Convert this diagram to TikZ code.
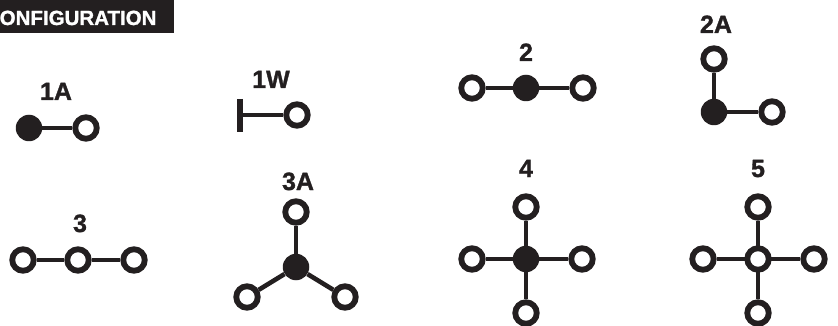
\documentclass[tikz,border=0pt]{standalone}
\usepackage{fontspec}
\setmainfont{Liberation Sans}
\newfontfamily\heavyfont{Liberation Sans}[BoldFeatures={FakeBold=1.3}]
\definecolor{ink}{RGB}{35,31,32}
\tikzset{
  opennode/.style={circle,draw=ink,line width=5.8pt,fill=white,minimum size=21.5pt,inner sep=0pt},
  solidnode/.style={circle,fill=ink,draw=none,minimum size=26.5pt,inner sep=0pt},
  conn/.style={draw=ink,line width=4.6pt},
  lbl/.style={font=\heavyfont\fontsize{25}{25}\selectfont\bfseries,text=ink,anchor=base,inner sep=0pt},
}
\begin{document}
\begin{tikzpicture}[x=1pt,y=-1pt]
\useasboundingbox (0,0) rectangle (838,326);
% header
\fill[ink] (0,0) rectangle (174,33);
\node[font=\heavyfont\fontsize{20.5}{20.5}\selectfont\bfseries,text=white,anchor=base west,inner sep=0pt] (hdr) at (-0.5,25) {ONFIGURATION};

% 1A
\node[lbl] (l1A) at (56,100) {1A};
\node[solidnode] (a1) at (29,128) {};
\node[opennode] (a2) at (86,128) {};
\draw[conn] (a1) -- (a2);

% 1W
\node[lbl] (l1W) at (271,88) {1W};
\coordinate (wt) at (240,99);
\coordinate (wb) at (240,132);
\coordinate (wm) at (240,115);
\node[opennode] (w2) at (297,115) {};
\draw[draw=ink,line width=5.6pt] (wt) -- (wb);
\draw[conn] (wm) -- (w2);

% 2
\node[lbl] (l2) at (526,61) {2};
\node[opennode] (b1) at (472,88) {};
\node[solidnode] (b2) at (526,88) {};
\node[opennode] (b3) at (583,88) {};
\draw[conn] (b1) -- (b2) -- (b3);

% 2A
\node[lbl] (l2A) at (716,33) {2A};
\node[opennode] (c1) at (714,59) {};
\node[solidnode] (c2) at (714,112) {};
\node[opennode] (c3) at (772,112) {};
\draw[conn] (c1) -- (c2) -- (c3);

% 3
\node[lbl] (l3) at (80,232) {3};
\node[opennode] (d1) at (23,260) {};
\node[opennode] (d2) at (78,260) {};
\node[opennode] (d3) at (134,260) {};
\draw[conn] (d1) -- (d2) -- (d3);

% 3A
\node[lbl] (l3A) at (298,190) {3A};
\node[solidnode] (e0) at (296,267) {};
\node[opennode] (e1) at (296,212) {};
\node[opennode] (e2) at (247,297) {};
\node[opennode] (e3) at (345,297) {};
\draw[conn] (e0) -- (e1);
\draw[conn] (e0) -- (e2);
\draw[conn] (e0) -- (e3);

% 4
\node[lbl] (l4) at (526,177) {4};
\node[solidnode] (f0) at (526,259) {};
\node[opennode] (f1) at (526,207) {};
\node[opennode] (f2) at (526,313) {};
\node[opennode] (f3) at (472,259) {};
\node[opennode] (f4) at (582,259) {};
\draw[conn] (f0) -- (f1);
\draw[conn] (f0) -- (f2);
\draw[conn] (f0) -- (f3);
\draw[conn] (f0) -- (f4);

% 5
\node[lbl] (l5) at (758,177) {5};
\node[opennode] (g1) at (758,207) {};
\node[opennode] (g2) at (758,313) {};
\node[opennode] (g3) at (703,259) {};
\node[opennode] (g4) at (814,259) {};
\draw[conn] (g1) -- (g2);
\draw[conn] (g3) -- (g4);
\node[opennode] (g0) at (758,259) {};
\end{tikzpicture}
\end{document}
